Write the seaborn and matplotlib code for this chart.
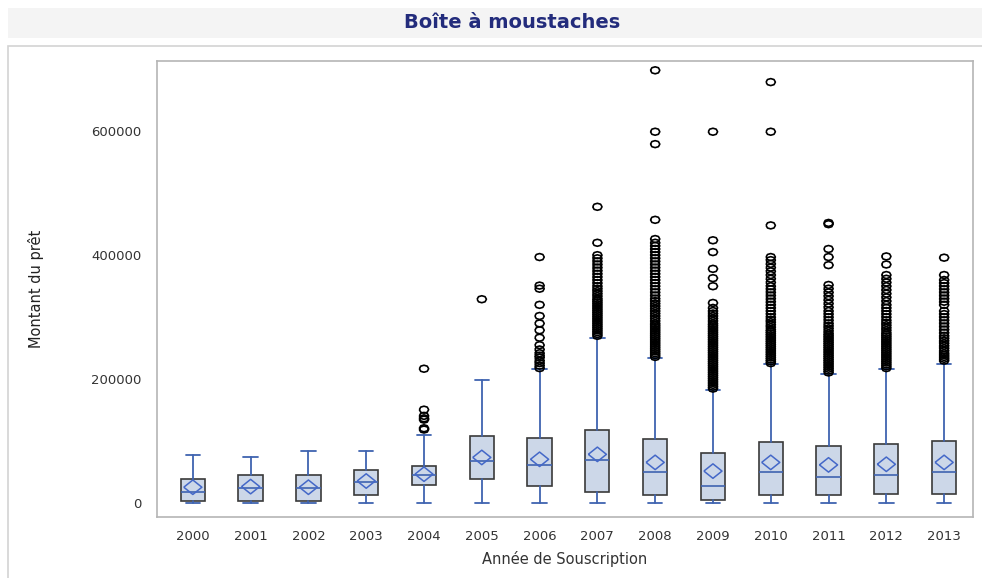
import numpy as np
import pandas as pd
import seaborn as sns
import matplotlib.pyplot as plt
from matplotlib.patches import Rectangle

# values in thousands
years = ["2000", "2001", "2002", "2003", "2004", "2005", "2006",
         "2007", "2008", "2009", "2010", "2011", "2012", "2013"]
q1 = [4, 4, 4, 14, 30, 39, 28, 18, 14, 6, 14, 14, 15, 15]
median = [18, 25, 24, 35, 46, 68, 62, 70, 51, 28, 51, 43, 46, 50]
q3 = [40, 46, 45, 54, 61, 108, 105, 119, 103, 81, 99, 92, 96, 101]
whislo = [0, 0, 0, 0, 0, 0, 0, 0, 0, 0, 0, 0, 0, 0]
whishi = [78, 75, 84, 84, 110, 199, 217, 267, 235, 182, 225, 209, 217, 225]
means = [26, 27, 26, 36, 47, 74, 71, 79, 66, 52, 66, 62, 63, 66]

outliers = {
    "2004": [119, 121, 135, 137, 141, 151, 217],
    "2005": [329],
    "2006": [218, 222, 226, 230, 235, 238, 242, 248, 255, 267, 279, 290,
             302, 320, 346, 351, 397],
    "2007": [270, 273, 276, 279, 282, 285, 288, 291, 294, 297, 300, 303,
             306, 309, 312, 315, 318, 321, 324, 327, 330, 334, 338, 342,
             346, 350, 355, 360, 365, 370, 375, 380, 385, 390, 395, 400,
             420, 478],
    "2008": [236, 239, 242, 245, 248, 251, 254, 257, 260, 263, 266, 269,
             272, 275, 278, 281, 284, 287, 290, 294, 298, 302, 306, 310,
             314, 318, 322, 326, 330, 335, 340, 345, 350, 355, 360, 365,
             370, 375, 380, 385, 390, 395, 400, 405, 410, 415, 420, 426,
             457, 579, 599, 698],
    "2009": [185, 188, 191, 194, 197, 200, 203, 206, 209, 212, 215, 218,
             221, 224, 227, 230, 233, 236, 239, 242, 245, 248, 251, 254,
             257, 260, 263, 266, 269, 272, 275, 278, 281, 284, 287, 290,
             294, 298, 302, 306, 310, 315, 323, 350, 363, 378, 405, 424, 599],
    "2010": [226, 229, 232, 235, 238, 241, 244, 247, 250, 253, 256, 259,
             262, 265, 268, 271, 274, 277, 280, 284, 288, 292, 296, 300,
             305, 310, 315, 320, 325, 330, 335, 340, 345, 350, 356, 362,
             368, 374, 380, 386, 392, 397, 448, 599, 679],
    "2011": [211, 214, 217, 220, 223, 226, 229, 232, 235, 238, 241, 244,
             247, 250, 253, 256, 259, 262, 265, 268, 271, 274, 278, 282,
             286, 290, 295, 300, 305, 310, 316, 322, 328, 334, 340, 346,
             352, 384, 397, 410, 450, 452],
    "2012": [218, 221, 224, 227, 230, 233, 236, 239, 242, 245, 248, 251,
             254, 257, 260, 263, 266, 269, 272, 275, 279, 283, 287, 291,
             295, 300, 305, 310, 315, 320, 326, 332, 338, 344, 350, 356,
             362, 368, 385, 398],
    "2013": [230, 233, 236, 239, 242, 246, 250, 254, 258, 262, 266, 270,
             275, 280, 285, 290, 295, 300, 305, 310, 320, 325, 330, 335,
             340, 345, 350, 355, 360, 368, 396],
}

box_fill = "#ccd7e8"
box_edge = "#3a3a3a"
blue = "#3f63b0"
narrow = ["DejaVu Sans Condensed", "Liberation Sans Narrow", "DejaVu Sans"]

sns.set_style("white")
plt.rcParams["font.family"] = ["DejaVu Sans"]

fig = plt.figure(figsize=(9.82, 5.78), dpi=100)
ax = fig.add_axes([157 / 982, 1 - 517 / 578, (973 - 157) / 982, (517 - 61) / 578])

# title band and outer frame
fig.patches.append(Rectangle((8 / 982, 1 - 38 / 578), 974 / 982, 30 / 578,
                             transform=fig.transFigure, facecolor="#f4f4f4",
                             edgecolor="none", zorder=0))
fig.patches.append(Rectangle((8 / 982, -0.01), 1.0, 1 - 46 / 578 + 0.01,
                             transform=fig.transFigure, facecolor="none",
                             edgecolor="#d3d3d3", linewidth=1.2, zorder=0))
fig.text(0.522, 1 - 23 / 578, "Boîte à moustaches", ha="center", va="center",
         fontsize=14, fontweight="bold", color="#232c7c", family=narrow)

stats = []
for i, y in enumerate(years):
    stats.append({"label": y, "q1": q1[i] * 1000, "med": median[i] * 1000,
                  "q3": q3[i] * 1000, "whislo": whislo[i] * 1000,
                  "whishi": whishi[i] * 1000, "fliers": []})

ax.bxp(stats, positions=range(len(years)), widths=0.42, patch_artist=True,
       showfliers=False,
       boxprops=dict(facecolor=box_fill, edgecolor=box_edge, linewidth=1.2),
       medianprops=dict(color=blue, linewidth=1.2),
       whiskerprops=dict(color=blue, linewidth=1.3),
       capprops=dict(color=blue, linewidth=1.3), capwidths=0.25)

out_rows = []
for y, vals in outliers.items():
    for v in vals:
        out_rows.append({"pos": years.index(y), "value": v * 1000})
out_df = pd.DataFrame(out_rows)
oval = [(-1, 0), (-0.7, 0.55), (0, 0.75), (0.7, 0.55), (1, 0),
        (0.7, -0.55), (0, -0.75), (-0.7, -0.55), (-1, 0)]
sns.scatterplot(data=out_df, x="pos", y="value", ax=ax, marker=oval, s=45,
                facecolor="none", edgecolor="black", linewidth=1.2, zorder=3)

mean_df = pd.DataFrame({"pos": range(len(years)),
                        "value": [m * 1000 for m in means]})
diamond = [(-1, 0), (0, 0.8), (1, 0), (0, -0.8), (-1, 0)]
sns.scatterplot(data=mean_df, x="pos", y="value", ax=ax, marker=diamond, s=170,
                facecolor="none", edgecolor="#4468c8", linewidth=1.1, zorder=4)

ax.set_xlim(-0.62, 13.5)
ax.set_ylim(-22000, 713000)
ax.set_xticks(range(len(years)), years)
ax.set_yticks([0, 200000, 400000, 600000], ["0", "200000", "400000", "600000"])
ax.tick_params(axis="both", direction="out", length=5, width=1,
               color="#9a9a9a", labelsize=9.5, labelcolor="#333333", pad=4)
ax.tick_params(axis="y", pad=6)
for s in ax.spines.values():
    s.set_color("#b5b5b5")
    s.set_linewidth(1.2)

ax.set_xlabel("Année de Souscription", fontsize=10.5, color="#333333", labelpad=6)
ax.set_ylabel("Montant du prêt", fontsize=10.5, color="#222222", labelpad=34,
              family=narrow)

fig.savefig("out.png", dpi=100)
